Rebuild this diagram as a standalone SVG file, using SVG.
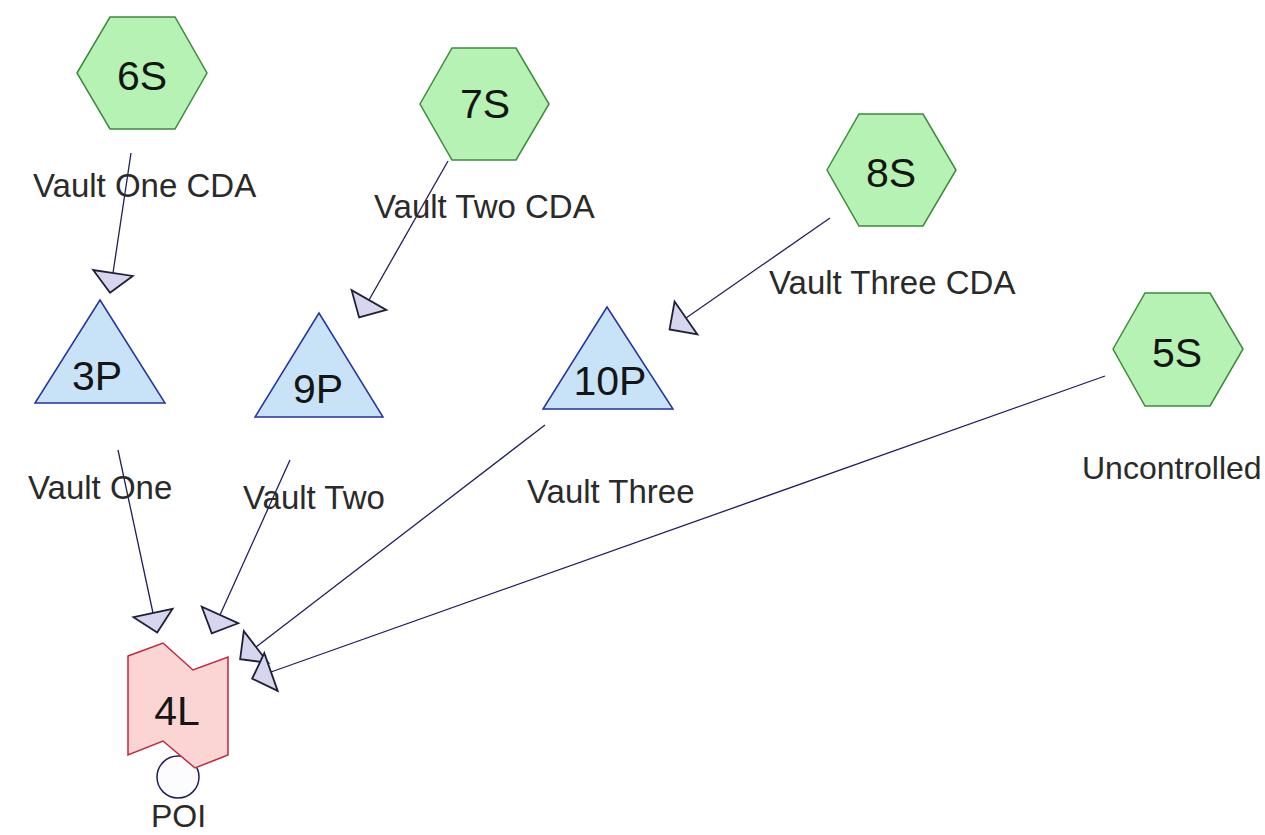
<svg xmlns="http://www.w3.org/2000/svg" width="1265" height="835" viewBox="0 0 1265 835">
<defs>
<style>
.hex{fill:#b5f2b3;stroke:#3d8a3d;stroke-width:1.5}
.tri{fill:#c8e3f8;stroke:#2233a0;stroke-width:1.5}
.loc{fill:#fbd4d4;stroke:#c0283c;stroke-width:1.5}
.nl{font-family:"Liberation Sans",Arial,sans-serif;font-size:41px;fill:#151515;text-anchor:middle}
.el{font-family:"Liberation Sans",Arial,sans-serif;font-size:33px;fill:#2a2a2a}
.edge{fill:none;stroke:#1f1f5a;stroke-width:1.3;marker-end:url(#ah)}
.loop{fill:#fcfcff;stroke:#1f1f5a;stroke-width:1.5}
</style>
<marker id="ah" markerUnits="userSpaceOnUse" markerWidth="44" markerHeight="44" refX="0" refY="0" viewBox="-2 -22 24 44" orient="auto" overflow="visible">
<path d="M0,-20 L20,0 L0,20 Z" fill="#d6d6ee" stroke="#1f1f3a" stroke-width="1.8" stroke-linejoin="miter"/>
</marker>
</defs>
<rect width="1265" height="835" fill="#ffffff"/>
<g id="connectors">
<line class="edge" x1="131" y1="153" x2="113" y2="273"/>
<line class="edge" x1="448" y1="161" x2="369" y2="300"/>
<line class="edge" x1="830" y1="218" x2="686" y2="318"/>
<line class="edge" x1="118" y1="450" x2="153" y2="613"/>
<line class="edge" x1="290" y1="460" x2="220" y2="615"/>
<line class="edge" x1="545" y1="425" x2="256" y2="647"/>
<line class="edge" x1="1105" y1="376" x2="271" y2="672"/>
<circle id="loop-4L" class="loop" cx="178" cy="777" r="21"/>
</g>
<g id="node-6S">
<polygon class="hex" points="77,73 110,17 175,17 207,73 175,129 110,129"/>
<text class="nl" x="142" y="90">6S</text>
<text class="el" x="33" y="197">Vault One CDA</text>
</g>
<g id="node-7S">
<polygon class="hex" points="420,104 452,48 516,48 549,104 516,160 452,160"/>
<text class="nl" x="485" y="118">7S</text>
<text class="el" x="374" y="218">Vault Two CDA</text>
</g>
<g id="node-8S">
<polygon class="hex" points="827,170 859,114 923,114 956,170 923,226 859,226"/>
<text class="nl" x="891" y="187">8S</text>
<text class="el" x="769" y="294">Vault Three CDA</text>
</g>
<g id="node-5S">
<polygon class="hex" points="1113,349 1145,293 1210,293 1243,349 1210,406 1145,406"/>
<text class="nl" x="1177" y="367">5S</text>
<text class="el" x="1082" y="479" style="font-size:32px">Uncontrolled</text>
</g>
<g id="node-3P">
<polygon class="tri" points="100,300 35,403 165,403"/>
<text class="nl" x="97" y="390">3P</text>
<text class="el" x="28" y="499">Vault One</text>
</g>
<g id="node-9P">
<polygon class="tri" points="319,313 255,417 383,417"/>
<text class="nl" x="318" y="403">9P</text>
<text class="el" x="243" y="509">Vault Two</text>
</g>
<g id="node-10P">
<polygon class="tri" points="607,307 543,409 673,409"/>
<text class="nl" x="610" y="395">10P</text>
<text class="el" x="527" y="503">Vault Three</text>
</g>
<g id="node-4L">
<polygon class="loc" points="128,656 163,643 193,670 228,657 228,755 195,768 163,741 128,755"/>
<text class="nl" x="177" y="725">4L</text>
<text class="el" x="151" y="827" style="font-size:32px">POI</text>
</g>
</svg>
